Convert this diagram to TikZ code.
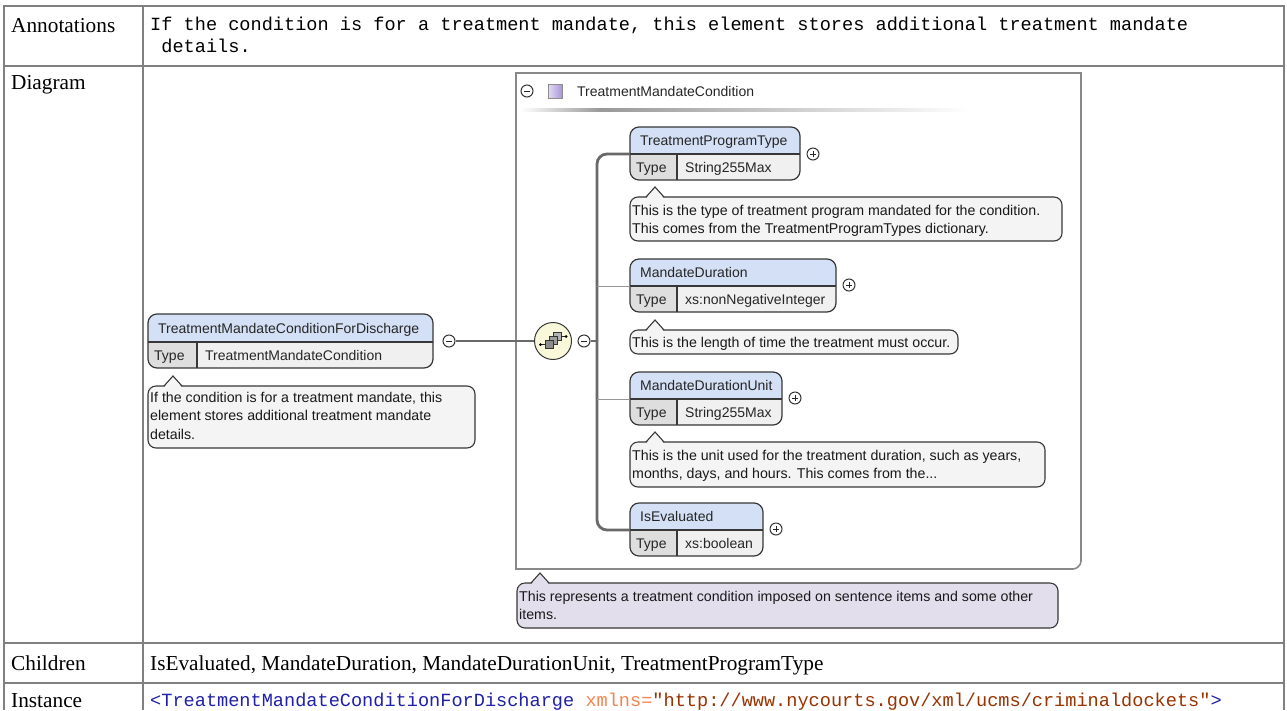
\documentclass[tikz,border=0pt]{standalone}
\usepackage{fontspec}
\setmainfont{Liberation Serif}
\newfontfamily\uisans{Liberation Sans}
\newfontfamily\codemono{Liberation Mono}
\definecolor{tblgray}{RGB}{128,128,128}
\definecolor{headbg}{RGB}{212,224,245}
\definecolor{typebg}{RGB}{240,240,240}
\definecolor{typecell}{RGB}{222,222,222}
\definecolor{elgray}{RGB}{55,55,55}
\definecolor{calfill}{RGB}{244,244,244}
\definecolor{lavfill}{RGB}{226,222,236}
\definecolor{seqfill}{RGB}{250,248,218}
\definecolor{congray}{RGB}{105,105,105}
\definecolor{thingray}{RGB}{150,150,150}
\definecolor{cxgray}{RGB}{136,136,136}
\definecolor{xmlblue}{RGB}{32,32,170}
\definecolor{xmlattr}{RGB}{245,132,76}
\definecolor{xmlval}{RGB}{153,51,0}
\definecolor{purpA}{RGB}{228,220,246}
\definecolor{purpB}{RGB}{168,150,215}
\tikzset{
  tbl/.style={draw=tblgray, line width=1.4pt},
  rowlbl/.style={font=\fontsize{21.3}{24}\selectfont, inner sep=0pt, anchor=base west},
  codetxt/.style={font=\codemono\fontsize{18.6}{22}\selectfont, inner sep=0pt, anchor=base west},
  uititle/.style={font=\uisans\fontsize{14}{16}\selectfont, inner sep=0pt, anchor=base west, text=black!85},
  uitext/.style={font=\uisans\fontsize{14}{16}\selectfont, inner sep=0pt, anchor=base west, text=black!85},
  caltext/.style={font=\uisans\fontsize{14.2}{18}\selectfont, inner sep=0pt, anchor=base west, text=black!90},
  elline/.style={draw=elgray, line width=1.2pt},
  callline/.style={draw=elgray, line width=1.1pt},
  thickcon/.style={draw=congray, line width=2.8pt},
  thincon/.style={draw=thingray, line width=1pt},
  pmc/.style={circle, draw=black!80, fill=white, line width=1pt, minimum size=12pt, inner sep=0pt},
  pmline/.style={draw=black!85, line width=1pt},
  cxline/.style={draw=cxgray, line width=1.6pt},
  seqc/.style={circle, draw=elgray, fill=seqfill, line width=1pt, minimum size=37pt, inner sep=0pt},
}
% name x1 y1 x2 ymid y2 xtype title type
\newcommand\drawelem[9]{%
  \begin{scope}
    \clip[rounded corners=9pt] (#2,#3) rectangle (#4,#6);
    \fill[typebg] (#2,#5) rectangle (#4,#6);
    \fill[headbg] (#2,#3) rectangle (#4,#5);
    \fill[typecell] (#2,#5) rectangle (#7,#6);
  \end{scope}
  \draw[elline, rounded corners=9pt] (#2,#3) rectangle (#4,#6);
  \draw[elline] (#2,#5) -- (#4,#5);
  \draw[elline] (#7,#5) -- (#7,#6);
  \coordinate (#1-w) at (#2,#5);
  \coordinate (#1-e) at (#4,#5);
  \node[uititle] (#1-name) at ({#2+10},{#5-8.5}) {#8};
  \node[uitext] (#1-key) at ({#2+6},{#5+18}) {Type};
  \node[uitext] (#1-val) at ({#7+8},{#5+18}) {#9};
}
% name x1 y1 x2 y2 px fill
\newcommand\drawcallout[7]{%
  \filldraw[callline, fill=#7, rounded corners=8pt] (#2,#3) rectangle (#4,#5);
  \fill[#7] ({#6-8.4},{#3+0.9}) -- (#6,{#3-10}) -- ({#6+8.4},{#3+0.9}) -- cycle;
  \draw[callline] ({#6-9},#3) -- (#6,{#3-10}) -- ({#6+9},#3);
  \coordinate (#1-tip) at (#6,{#3-10});
}
\newcommand\pmminus[3]{%
  \node[pmc] (#1) at (#2,#3) {};
  \draw[pmline] ([xshift=-3.2pt]#1.center) -- ([xshift=3.2pt]#1.center);
}
\newcommand\pmplus[3]{%
  \node[pmc] (#1) at (#2,#3) {};
  \draw[pmline] ([xshift=-3.2pt]#1.center) -- ([xshift=3.2pt]#1.center);
  \draw[pmline] ([yshift=-3.2pt]#1.center) -- ([yshift=3.2pt]#1.center);
}
\begin{document}
\begin{tikzpicture}[x=1pt,y=-1pt]
\useasboundingbox (0,0) rectangle (1287,710);
\fill[white] (0,0) rectangle (1287,710);

% ---------- table ----------
\draw[tbl] (4,710) -- (4,6) -- (1284,6) -- (1284,710);
\draw[tbl] (143,6) -- (143,710);
\draw[tbl] (4,66) -- (1284,66);
\draw[tbl] (4,643) -- (1284,643);
\draw[tbl] (4,683) -- (1284,683);

\node[rowlbl] (lann) at (11,32) {Annotations};
\node[rowlbl] (ldia) at (11,89) {Diagram};
\node[rowlbl] (lchi) at (11,670) {Children};
\node[rowlbl] (lins) at (11,707) {Instance};

\node[codetxt] (ann1) at (150,30) {If the condition is for a treatment mandate, this element stores additional treatment mandate};
\node[codetxt] (ann2) at (161.2,52) {details.};

\node[rowlbl] (chl) at (150,670) {IsEvaluated, MandateDuration, MandateDurationUnit, TreatmentProgramType};
\node[codetxt] (inst) at (150,706) {\textcolor{xmlblue}{<TreatmentMandateConditionForDischarge} \textcolor{xmlattr}{xmlns=}\textcolor{xmlval}{"http://www.nycourts.gov/xml/ucms/criminaldockets"}\textcolor{xmlblue}{>}};

% ---------- complex type box ----------
\draw[cxline] (516,569) -- (516,73) -- (1081,73) -- (1081,561) .. controls (1081,565.4) and (1076.6,569) .. (1073,569) -- cycle;
\coordinate (cx-sw) at (516,569);
\pmminus{cxpm}{527}{91}
\shade[left color=purpA, right color=purpB, draw=black!45, line width=0.6pt] (548,84) rectangle (562,98);
\node[uititle] (cxname) at (577,96) {TreatmentMandateCondition};
\shade[left color=white, right color=black!40] (520,108.5) rectangle (600,111.5);
\shade[left color=black!40, right color=white] (600,108.5) rectangle (970,111.5);

% ---------- left element ----------
\drawelem{lel}{148}{314}{433}{342}{368}{197}{TreatmentMandateConditionForDischarge}{TreatmentMandateCondition}
\pmminus{lelpm}{449}{341}
\drawcallout{lelc}{148}{386}{475}{448}{173}{calfill}
\node[caltext] (lelc1) at (150,402.5) {If the condition is for a treatment mandate, this};
\node[caltext] (lelc2) at (150,420.5) {element stores additional treatment mandate};
\node[caltext] (lelc3) at (150,439.5) {details.};

% ---------- sequence compositor ----------
\node[seqc] (seq) at (553,341) {};
\filldraw[fill=black!30, draw=black!80, line width=0.7pt] (553,332) rectangle (561,340);
\filldraw[fill=black!38, draw=black!80, line width=0.7pt] (549,336) rectangle (557,344);
\filldraw[fill=black!45, draw=black!80, line width=0.7pt] (545,340) rectangle (553,348);
\draw[black!85, line width=0.8pt] (540.5,344.5) -- (545,344.5);
\draw[black!85, line width=0.8pt] (561,336.5) -- (566,336.5);
\fill[black] (540.5,344.5) circle[radius=1.5pt];
\fill[black] (566,336.5) circle[radius=1.5pt];
\pmminus{seqpm}{584}{341}

% ---------- children ----------
\drawelem{tpt}{630}{127}{800}{154}{180}{677}{TreatmentProgramType}{String255Max}
\pmplus{tptpm}{813}{154}
\drawcallout{tptc}{630}{197}{1062}{241}{655}{calfill}
\node[caltext] (tptc1) at (632,215) {This is the type of treatment program mandated for the condition.};
\node[caltext] (tptc2) at (632,233) {This comes from the TreatmentProgramTypes dictionary.};

\drawelem{md}{630}{259}{836}{286}{312}{677}{MandateDuration}{xs:nonNegativeInteger}
\pmplus{mdpm}{849}{285}
\drawcallout{mdc}{630}{330}{958}{354}{655}{calfill}
\node[caltext] (mdc1) at (632,347.5) {This is the length of time the treatment must occur.};

\drawelem{mdu}{630}{372}{782}{399}{425}{677}{MandateDurationUnit}{String255Max}
\pmplus{mdupm}{795}{398}
\drawcallout{mduc}{630}{442}{1045}{487}{655}{calfill}
\node[caltext] (mduc1) at (632,460.5) {This is the unit used for the treatment duration, such as years,};
\node[caltext] (mduc2) at (632,478.5) {months, days, and hours. This comes from the...};

\drawelem{ise}{630}{503}{763}{530}{556}{677}{IsEvaluated}{xs:boolean}
\pmplus{isepm}{776}{529}

% ---------- complex type annotation ----------
\drawcallout{cxc}{517}{583}{1058}{628}{540}{lavfill}
\node[caltext] (cxc1) at (519,601.5) {This represents a treatment condition imposed on sentence items and some other};
\node[caltext] (cxc2) at (519,619.5) {items.};

% ---------- connectors ----------
\coordinate (bartop) at (597,164);
\coordinate (barbot) at (597,520);
\draw[thickcon] (lelpm.east) -- (seq.west);
\draw[thickcon] (seqpm.east) -- (seqpm.east -| bartop);
\draw[thickcon, line join=round] (tpt-w) -- (607,154) .. controls (601.5,154) and (597,158.5) .. (bartop) -- (barbot) .. controls (597,525.5) and (601.5,530) .. (607,530) -- (ise-w);
\draw[thincon] (md-w -| bartop) -- (md-w);
\draw[thincon] (mdu-w -| bartop) -- (mdu-w);
\end{tikzpicture}
\end{document}
